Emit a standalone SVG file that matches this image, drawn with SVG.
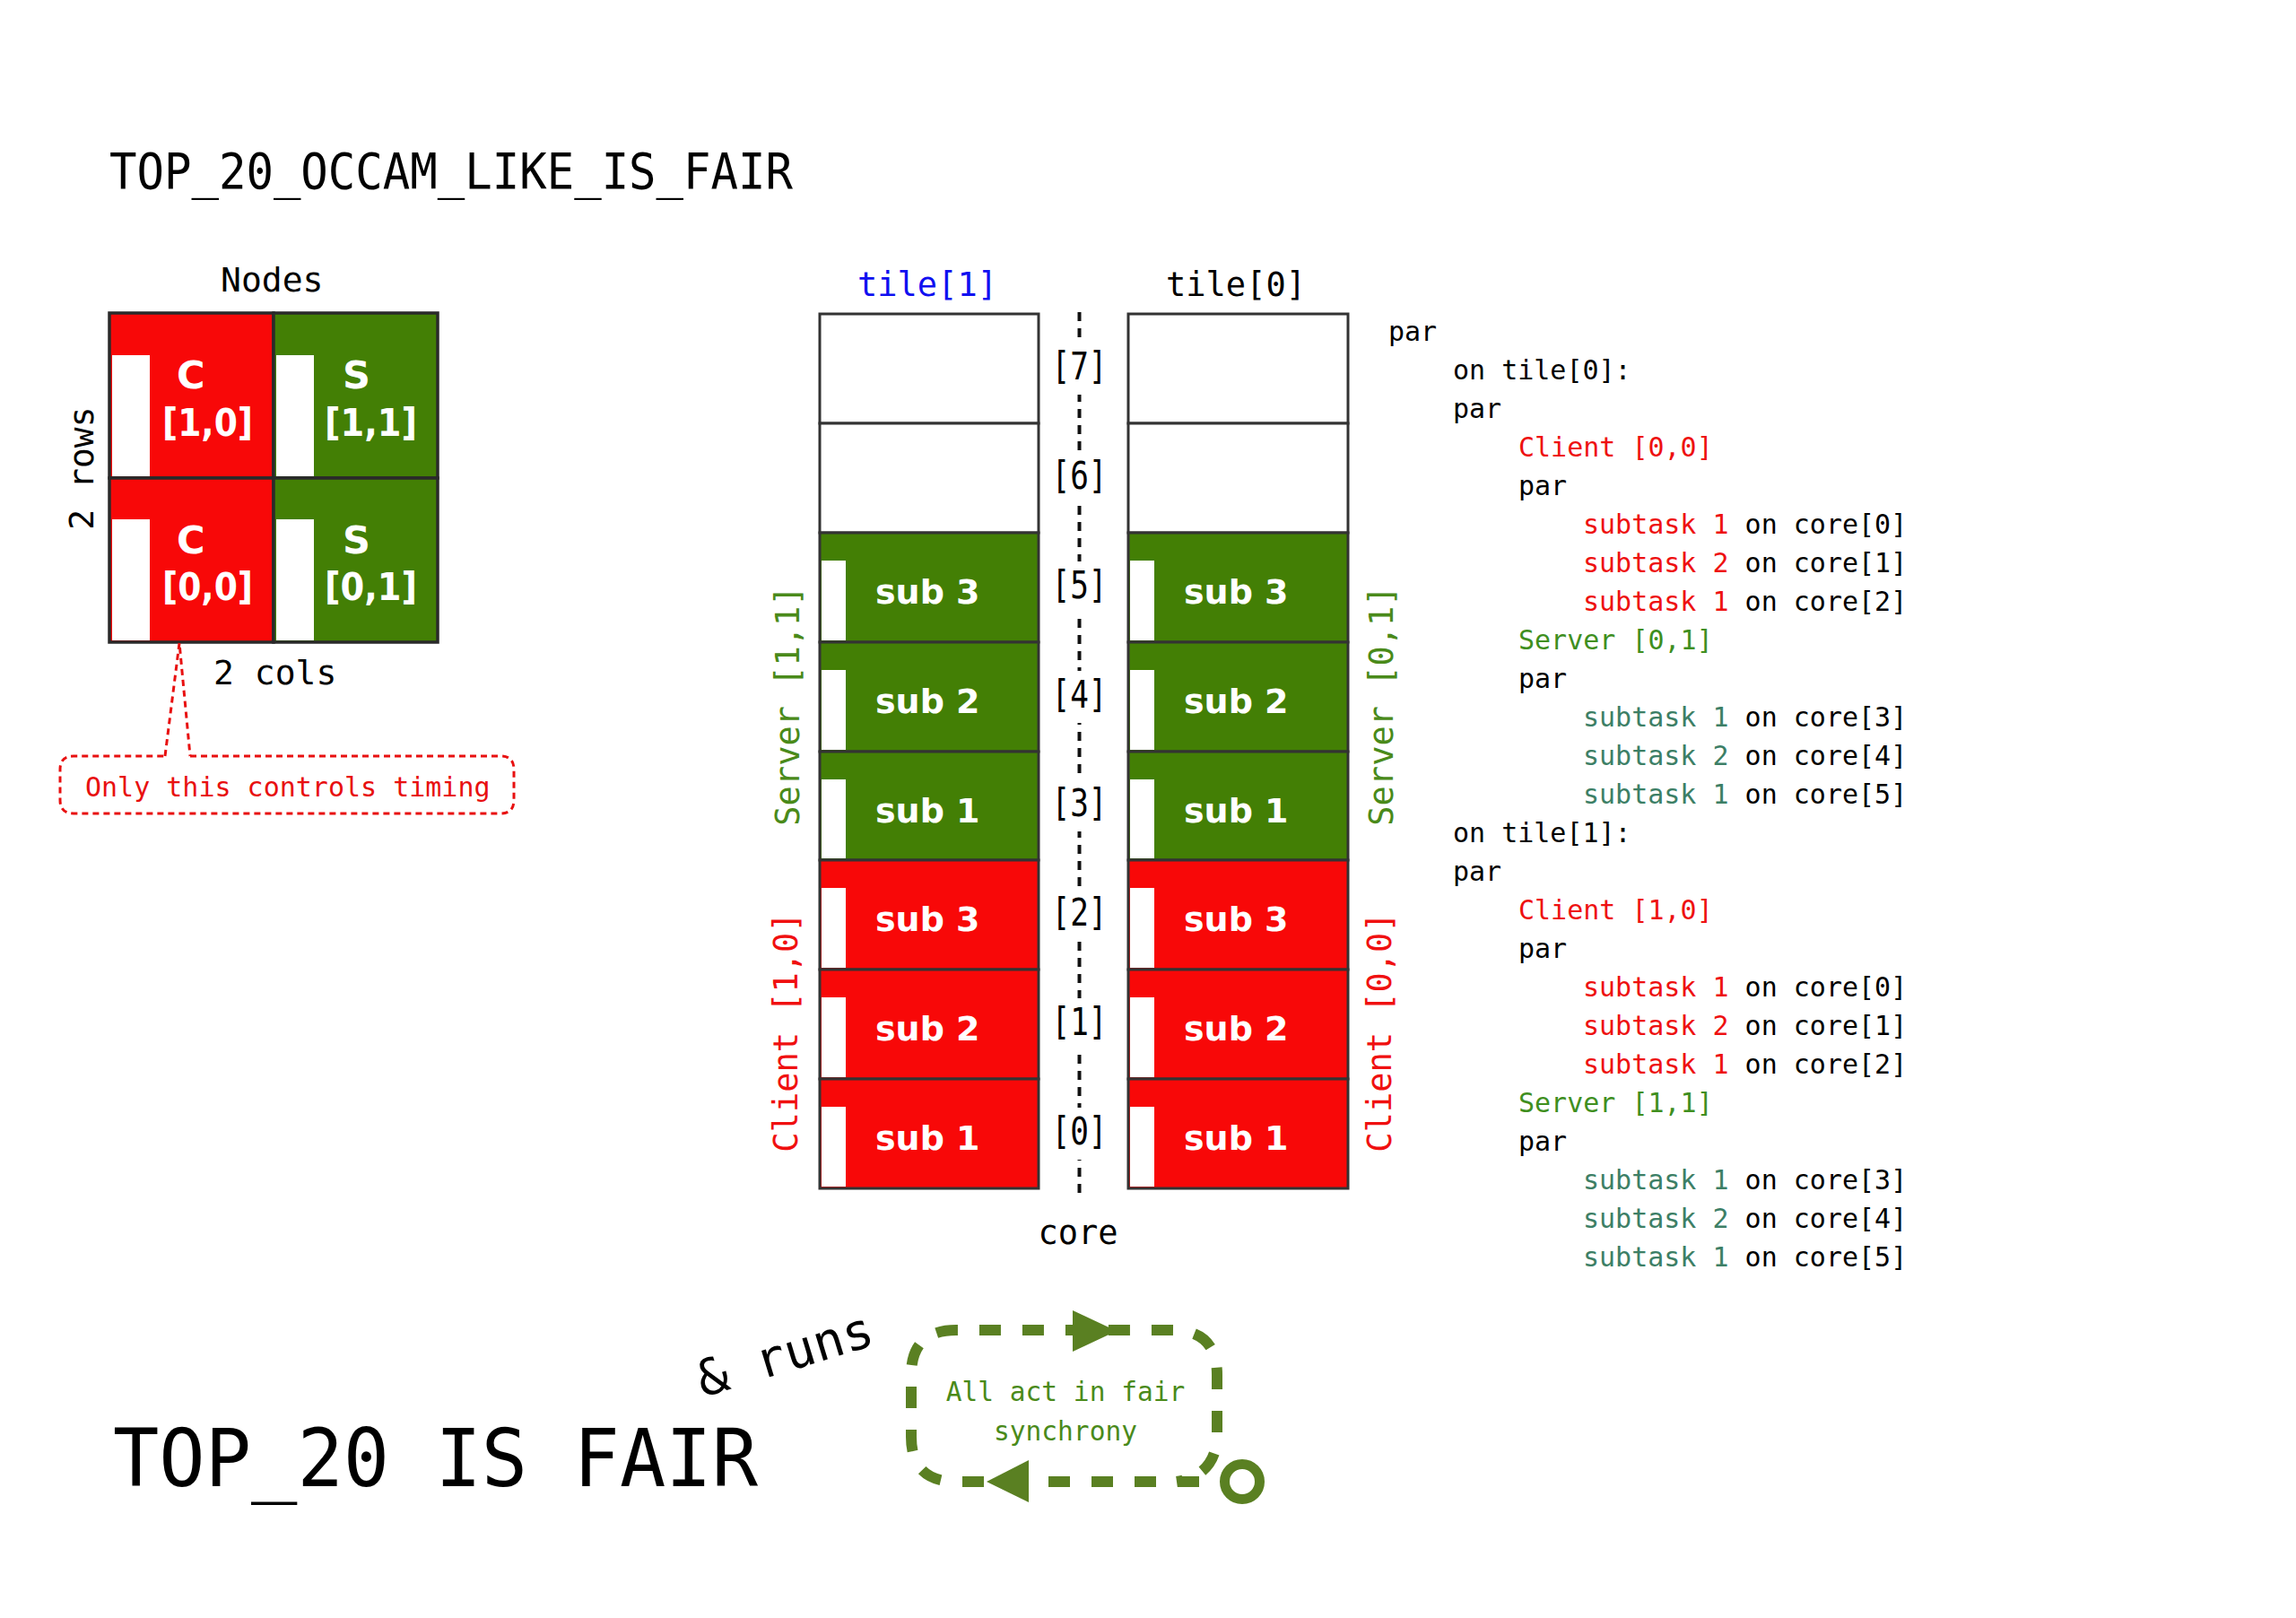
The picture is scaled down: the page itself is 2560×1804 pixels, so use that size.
<svg xmlns="http://www.w3.org/2000/svg" width="2560" height="1804" viewBox="0 0 2560 1804">
<style>
.mono{font-family:"DejaVu Sans Mono","Liberation Mono",monospace;}
.bold{font-family:"DejaVu Sans","Liberation Sans",sans-serif;font-weight:bold;fill:#fff;}
.red{fill:#f80808;}
.grn{fill:#437f05;}
.bar{fill:#fff;}
.cell{stroke:#2a2a2a;stroke-width:3.5;}
.row{stroke:#333;stroke-width:3;}
.lbl{font-size:40px;}
.code{font-size:30px;fill:#000;}
.cr{fill:#ee1111;}
.cg{fill:#3f8f1f;}
.ct{fill:#3d7f66;}
</style>
<rect width="2560" height="1804" fill="#fff"/>

<g id="title">
<text class="mono" x="122" y="210" font-size="55" textLength="762" lengthAdjust="spacingAndGlyphs">TOP_20_OCCAM_LIKE_IS_FAIR</text>
</g>

<g id="nodes-grid">
<text class="mono" x="246" y="325" font-size="38">Nodes</text>
<text class="mono" font-size="38" text-anchor="middle" transform="translate(104,522) rotate(-90)">2 rows</text>
<text class="mono" x="238" y="763" font-size="38">2 cols</text>
<g id="node-c10">
<rect class="red cell" x="122" y="349" width="183" height="184"/>
<rect class="bar" x="125" y="396" width="42" height="135"/>
<text class="bold" x="197" y="433" font-size="43">C</text>
<text class="bold" x="181" y="486" font-size="42" textLength="101" lengthAdjust="spacingAndGlyphs">[1,0]</text>
</g>
<g id="node-s11">
<rect class="grn cell" x="305" y="349" width="183" height="184"/>
<rect class="bar" x="308" y="396" width="42" height="135"/>
<text class="bold" x="382" y="433" font-size="43">S</text>
<text class="bold" x="362" y="486" font-size="42" textLength="103" lengthAdjust="spacingAndGlyphs">[1,1]</text>
</g>
<g id="node-c00">
<rect class="red cell" x="122" y="533" width="183" height="183"/>
<rect class="bar" x="125" y="579" width="42" height="135"/>
<text class="bold" x="197" y="617" font-size="43">C</text>
<text class="bold" x="181" y="669" font-size="42" textLength="101" lengthAdjust="spacingAndGlyphs">[0,0]</text>
</g>
<g id="node-s01">
<rect class="grn cell" x="305" y="533" width="183" height="183"/>
<rect class="bar" x="308" y="579" width="42" height="135"/>
<text class="bold" x="382" y="617" font-size="43">S</text>
<text class="bold" x="362" y="669" font-size="42" textLength="103" lengthAdjust="spacingAndGlyphs">[0,1]</text>
</g>
</g>

<g id="callout">
<path d="M212,843 L558,843 Q573,843 573,858 L573,892 Q573,907 558,907 L82,907 Q67,907 67,892 L67,858 Q67,843 82,843 L184,843" fill="none" stroke="#e81010" stroke-width="3" stroke-dasharray="7 5"/>
<text class="mono" x="95" y="888" font-size="30" fill="#e81010">Only this controls timing</text>
</g>

<g id="connectors">
<polyline points="184,843 200,717 212,843" fill="none" stroke="#e81010" stroke-width="3" stroke-dasharray="7 5"/>
<line x1="1203.5" y1="348" x2="1203.5" y2="1332" stroke="#111" stroke-width="4" stroke-dasharray="10 8"/>
<path d="M1385,1652 L1066,1652 Q1016,1652 1016,1602 L1016,1533 Q1016,1483 1066,1483 L1307,1483 Q1357,1483 1357,1533 L1357,1600 C1357,1630 1340,1648 1312,1652" fill="none" stroke="#5a8022" stroke-width="12" stroke-dasharray="24 24"/>
<polygon points="1196,1461 1245,1484 1196,1507" fill="#5a8022"/>
<polygon points="1147,1628 1100,1652 1147,1675" fill="#5a8022"/>
<circle cx="1385" cy="1652" r="19.5" fill="#fff" stroke="#5a8022" stroke-width="11"/>
</g>

<g id="tile1">
<text class="mono" x="1034" y="330" font-size="37" text-anchor="middle" fill="#1010f0">tile[1]</text>
<rect class="row" x="914" y="350" width="244" height="122" fill="#fff"/>
<rect class="row" x="914" y="472" width="244" height="122" fill="#fff"/>
<g id="t1-sub3g"><rect class="row grn" x="914" y="594" width="244" height="122"/><rect class="bar" x="916" y="625" width="27" height="89"/><text class="bold" x="976" y="673" font-size="38">sub 3</text></g>
<g id="t1-sub2g"><rect class="row grn" x="914" y="716" width="244" height="122"/><rect class="bar" x="916" y="747" width="27" height="89"/><text class="bold" x="976" y="795" font-size="38">sub 2</text></g>
<g id="t1-sub1g"><rect class="row grn" x="914" y="838" width="244" height="121"/><rect class="bar" x="916" y="869" width="27" height="88"/><text class="bold" x="976" y="917" font-size="38">sub 1</text></g>
<g id="t1-sub3r"><rect class="row red" x="914" y="959" width="244" height="122"/><rect class="bar" x="916" y="990" width="27" height="89"/><text class="bold" x="976" y="1038" font-size="38">sub 3</text></g>
<g id="t1-sub2r"><rect class="row red" x="914" y="1081" width="244" height="122"/><rect class="bar" x="916" y="1112" width="27" height="89"/><text class="bold" x="976" y="1160" font-size="38">sub 2</text></g>
<g id="t1-sub1r"><rect class="row red" x="914" y="1203" width="244" height="122"/><rect class="bar" x="916" y="1234" width="27" height="89"/><text class="bold" x="976" y="1282" font-size="38">sub 1</text></g>
<text class="mono" font-size="37" text-anchor="middle" fill="#4a8a1a" transform="translate(891,787) rotate(-90)">Server [1,1]</text>
<text class="mono" font-size="37" text-anchor="middle" fill="#f01010" transform="translate(889,1151) rotate(-90)">Client [1,0]</text>
</g>

<g id="tile0">
<text class="mono" x="1378" y="330" font-size="37" text-anchor="middle">tile[0]</text>
<rect class="row" x="1258" y="350" width="245" height="122" fill="#fff"/>
<rect class="row" x="1258" y="472" width="245" height="122" fill="#fff"/>
<g id="t0-sub3g"><rect class="row grn" x="1258" y="594" width="245" height="122"/><rect class="bar" x="1260" y="625" width="27" height="89"/><text class="bold" x="1320" y="673" font-size="38">sub 3</text></g>
<g id="t0-sub2g"><rect class="row grn" x="1258" y="716" width="245" height="122"/><rect class="bar" x="1260" y="747" width="27" height="89"/><text class="bold" x="1320" y="795" font-size="38">sub 2</text></g>
<g id="t0-sub1g"><rect class="row grn" x="1258" y="838" width="245" height="121"/><rect class="bar" x="1260" y="869" width="27" height="88"/><text class="bold" x="1320" y="917" font-size="38">sub 1</text></g>
<g id="t0-sub3r"><rect class="row red" x="1258" y="959" width="245" height="122"/><rect class="bar" x="1260" y="990" width="27" height="89"/><text class="bold" x="1320" y="1038" font-size="38">sub 3</text></g>
<g id="t0-sub2r"><rect class="row red" x="1258" y="1081" width="245" height="122"/><rect class="bar" x="1260" y="1112" width="27" height="89"/><text class="bold" x="1320" y="1160" font-size="38">sub 2</text></g>
<g id="t0-sub1r"><rect class="row red" x="1258" y="1203" width="245" height="122"/><rect class="bar" x="1260" y="1234" width="27" height="89"/><text class="bold" x="1320" y="1282" font-size="38">sub 1</text></g>
<text class="mono" font-size="37" text-anchor="middle" fill="#4a8a1a" transform="translate(1553,787) rotate(-90)">Server [0,1]</text>
<text class="mono" font-size="37" text-anchor="middle" fill="#f01010" transform="translate(1551,1151) rotate(-90)">Client [0,0]</text>
</g>

<g id="core-axis">
<g fill="#fff">
<rect x="1170" y="382" width="67" height="58"/>
<rect x="1170" y="504" width="67" height="58"/>
<rect x="1170" y="626" width="67" height="58"/>
<rect x="1170" y="748" width="67" height="58"/>
<rect x="1170" y="869" width="67" height="58"/>
<rect x="1170" y="991" width="67" height="58"/>
<rect x="1170" y="1113" width="67" height="58"/>
<rect x="1170" y="1235" width="67" height="58"/>
</g>
<g class="mono lbl" text-anchor="middle" font-size="42">
<text x="1203.5" y="423" font-size="42" textLength="62" lengthAdjust="spacingAndGlyphs">[7]</text>
<text x="1203.5" y="545" font-size="42" textLength="62" lengthAdjust="spacingAndGlyphs">[6]</text>
<text x="1203.5" y="667" font-size="42" textLength="62" lengthAdjust="spacingAndGlyphs">[5]</text>
<text x="1203.5" y="789" font-size="42" textLength="62" lengthAdjust="spacingAndGlyphs">[4]</text>
<text x="1203.5" y="910" font-size="42" textLength="62" lengthAdjust="spacingAndGlyphs">[3]</text>
<text x="1203.5" y="1032" font-size="42" textLength="62" lengthAdjust="spacingAndGlyphs">[2]</text>
<text x="1203.5" y="1154" font-size="42" textLength="62" lengthAdjust="spacingAndGlyphs">[1]</text>
<text x="1203.5" y="1276" font-size="42" textLength="62" lengthAdjust="spacingAndGlyphs">[0]</text>
</g>
<text class="mono" x="1202" y="1387" font-size="37" text-anchor="middle">core</text>
</g>

<g id="code" class="mono code" xml:space="preserve">
<text x="1548" y="380">par</text>
<text x="1620" y="423">on tile[0]:</text>
<text x="1620" y="466">par</text>
<text x="1693" y="509" class="cr">Client [0,0]</text>
<text x="1693" y="552">par</text>
<text x="1765" y="595"><tspan class="cr">subtask 1</tspan> on core[0]</text>
<text x="1765" y="638"><tspan class="cr">subtask 2</tspan> on core[1]</text>
<text x="1765" y="681"><tspan class="cr">subtask 1</tspan> on core[2]</text>
<text x="1693" y="724" class="cg">Server [0,1]</text>
<text x="1693" y="767">par</text>
<text x="1765" y="810"><tspan class="ct">subtask 1</tspan> on core[3]</text>
<text x="1765" y="853"><tspan class="ct">subtask 2</tspan> on core[4]</text>
<text x="1765" y="896"><tspan class="ct">subtask 1</tspan> on core[5]</text>
<text x="1620" y="939">on tile[1]:</text>
<text x="1620" y="982">par</text>
<text x="1693" y="1025" class="cr">Client [1,0]</text>
<text x="1693" y="1068">par</text>
<text x="1765" y="1111"><tspan class="cr">subtask 1</tspan> on core[0]</text>
<text x="1765" y="1154"><tspan class="cr">subtask 2</tspan> on core[1]</text>
<text x="1765" y="1197"><tspan class="cr">subtask 1</tspan> on core[2]</text>
<text x="1693" y="1240" class="cg">Server [1,1]</text>
<text x="1693" y="1283">par</text>
<text x="1765" y="1326"><tspan class="ct">subtask 1</tspan> on core[3]</text>
<text x="1765" y="1369"><tspan class="ct">subtask 2</tspan> on core[4]</text>
<text x="1765" y="1412"><tspan class="ct">subtask 1</tspan> on core[5]</text>
</g>

<g id="loop-label">
<text class="mono" x="1188" y="1562" font-size="29.5" text-anchor="middle" fill="#4a8a1a">All act in fair</text>
<text class="mono" x="1188" y="1606" font-size="29.5" text-anchor="middle" fill="#4a8a1a">synchrony</text>
</g>

<g id="runs">
<text class="mono" font-size="56" transform="translate(784,1558) rotate(-17)">&amp; runs</text>
</g>

<g id="bottom-title">
<text class="mono" x="126" y="1657" font-size="89" textLength="719" lengthAdjust="spacingAndGlyphs">TOP_20 IS FAIR</text>
</g>
</svg>
